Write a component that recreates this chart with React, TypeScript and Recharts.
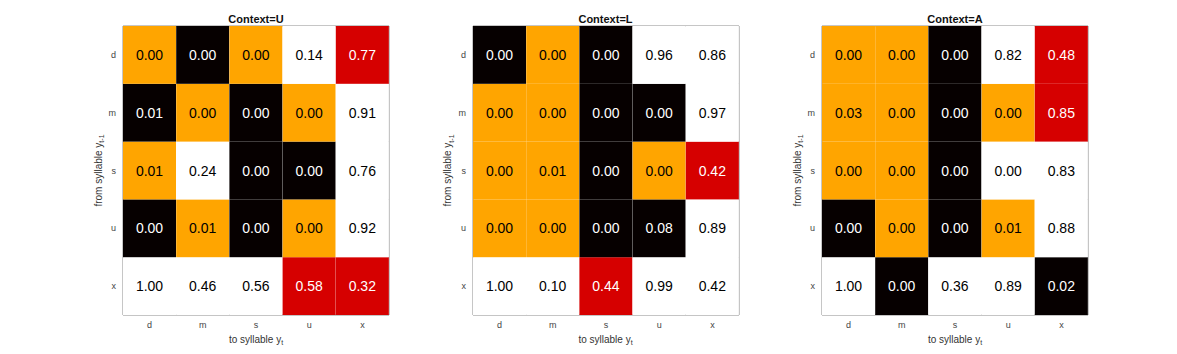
import React from 'react';
import { BarChart, Bar, XAxis, YAxis, ReferenceArea } from 'recharts';

// rows = from syllable (y_{t-1}), columns = to syllable (y_t)
const syllables = ['d', 'm', 's', 'u', 'x'];
const contexts = ['U', 'L', 'A'];

const probU = [
  [0.0, 0.0, 0.0, 0.14, 0.77],
  [0.01, 0.0, 0.0, 0.0, 0.91],
  [0.01, 0.24, 0.0, 0.0, 0.76],
  [0.0, 0.01, 0.0, 0.0, 0.92],
  [1.0, 0.46, 0.56, 0.58, 0.32],
];
const probL = [
  [0.0, 0.0, 0.0, 0.96, 0.86],
  [0.0, 0.0, 0.0, 0.0, 0.97],
  [0.0, 0.01, 0.0, 0.0, 0.42],
  [0.0, 0.0, 0.0, 0.08, 0.89],
  [1.0, 0.1, 0.44, 0.99, 0.42],
];
const probA = [
  [0.0, 0.0, 0.0, 0.82, 0.48],
  [0.03, 0.0, 0.0, 0.0, 0.85],
  [0.0, 0.0, 0.0, 0.0, 0.83],
  [0.0, 0.0, 0.0, 0.01, 0.88],
  [1.0, 0.0, 0.36, 0.89, 0.02],
];

// O = orange, K = black, W = white, R = red
const shadeU = ['OKOWR', 'KOKOW', 'OWKKW', 'KOKOW', 'WWWRR'];
const shadeL = ['KOKWW', 'OOKKW', 'OOKOR', 'OOKKW', 'WWRWW'];
const shadeA = ['OOKWR', 'OOKOR', 'OOKWW', 'KOKOW', 'WKWWK'];

const probs = [probU, probL, probA];
const shades = [shadeU, shadeL, shadeA];

const palette: Record<string, string> = {
  O: '#FFA500',
  K: '#060000',
  W: '#FFFFFF',
  R: '#D60000',
};

const font = '"Liberation Sans", Arial, Helvetica, sans-serif';

const PLOT_LEFT = [123, 472.5, 822];
const PLOT_W = 266;
const PLOT_TOP = 26;
const PLOT_BOTTOM = 315;
const CHART_W = 349;
const CHART_H = 354;
const LEFT_SPACE = 70;

// one stack segment per from-row, each a unit tall
const columnData = syllables.map((to) => {
  const row: Record<string, string | number> = { to };
  syllables.forEach((from) => (row[from] = 1));
  return row;
});

const makeCell = (panel: number, rowIdx: number) => (props: any) => {
  const { x, y, width, height, payload } = props;
  const colIdx = syllables.indexOf(payload.to);
  const shade = shades[panel][rowIdx][colIdx];
  const value = probs[panel][rowIdx][colIdx];
  const dark = shade === 'K' || shade === 'R';
  return (
    <g>
      <rect x={x} y={y} width={width} height={height} fill={palette[shade]} />
      <text
        x={x + width / 2}
        y={y + height / 2}
        textAnchor="middle"
        dominantBaseline="central"
        fontSize={14}
        fontFamily={font}
        fill={dark ? '#FFFFFF' : '#000000'}
      >
        {value.toFixed(2)}
      </text>
    </g>
  );
};

const Panel = ({ panel }: { panel: number }) => {
  const stackOrder = [...syllables].reverse(); // bottom row first
  return (
    <div style={{ position: 'absolute', left: PLOT_LEFT[panel] - LEFT_SPACE, top: 0 }}>
      <BarChart
        width={CHART_W}
        height={CHART_H}
        data={columnData}
        barCategoryGap={0}
        barGap={0}
        margin={{ top: PLOT_TOP, right: CHART_W - LEFT_SPACE - PLOT_W, bottom: 0, left: 30 }}
      >
        <XAxis
          dataKey="to"
          type="category"
          height={CHART_H - PLOT_BOTTOM}
          axisLine={false}
          tickLine={false}
          tickSize={0}
          tickMargin={7}
          tick={{ fontSize: 9, fill: '#444', fontFamily: font }}
        />
        <YAxis
          type="number"
          domain={[0, 5]}
          ticks={[0.5, 1.5, 2.5, 3.5, 4.5]}
          tickFormatter={(v: number) => syllables[4 - Math.floor(v)]}
          width={40}
          axisLine={false}
          tickLine={false}
          tickSize={0}
          tickMargin={7}
          tick={{ fontSize: 9, fill: '#444', fontFamily: font }}
        />
        {stackOrder.map((from) => (
          <Bar
            key={from}
            dataKey={from}
            stackId="cells"
            isAnimationActive={false}
            shape={makeCell(panel, syllables.indexOf(from))}
          />
        ))}
        <ReferenceArea y1={0} y2={5} fill="none" stroke="#8c8c8c" strokeWidth={1} ifOverflow="visible" />
      </BarChart>
    </div>
  );
};

const Labels = () => (
  <svg
    width={1177}
    height={354}
    style={{ position: 'absolute', left: 0, top: 0, pointerEvents: 'none' }}
  >
    {contexts.map((c, i) => {
      const cx = PLOT_LEFT[i] + PLOT_W / 2;
      const cy = (PLOT_TOP + PLOT_BOTTOM) / 2;
      const lx = PLOT_LEFT[i] - 25;
      return (
        <g key={c} fontFamily={font}>
          <text x={cx} y={19} textAnchor="middle" dominantBaseline="central" fontSize={11} fontWeight="bold" fill="#111">
            {`Context=${c}`}
          </text>
          <text x={cx} y={339} textAnchor="middle" dominantBaseline="central" fontSize={10} fill="#333">
            to syllable y<tspan fontSize={7} dy={3}>t</tspan>
          </text>
          <text
            x={lx}
            y={cy}
            textAnchor="middle"
            dominantBaseline="central"
            fontSize={10}
            fill="#333"
            transform={`rotate(-90 ${lx} ${cy})`}
          >
            from syllable y<tspan fontSize={7} dy={3}>t-1</tspan>
          </text>
        </g>
      );
    })}
  </svg>
);

export default function App() {
  return (
    <div style={{ position: 'absolute', left: 0, top: 0, width: 1177, height: 354, background: '#fff' }}>
      {contexts.map((c, i) => (
        <Panel key={c} panel={i} />
      ))}
      <Labels />
    </div>
  );
}
